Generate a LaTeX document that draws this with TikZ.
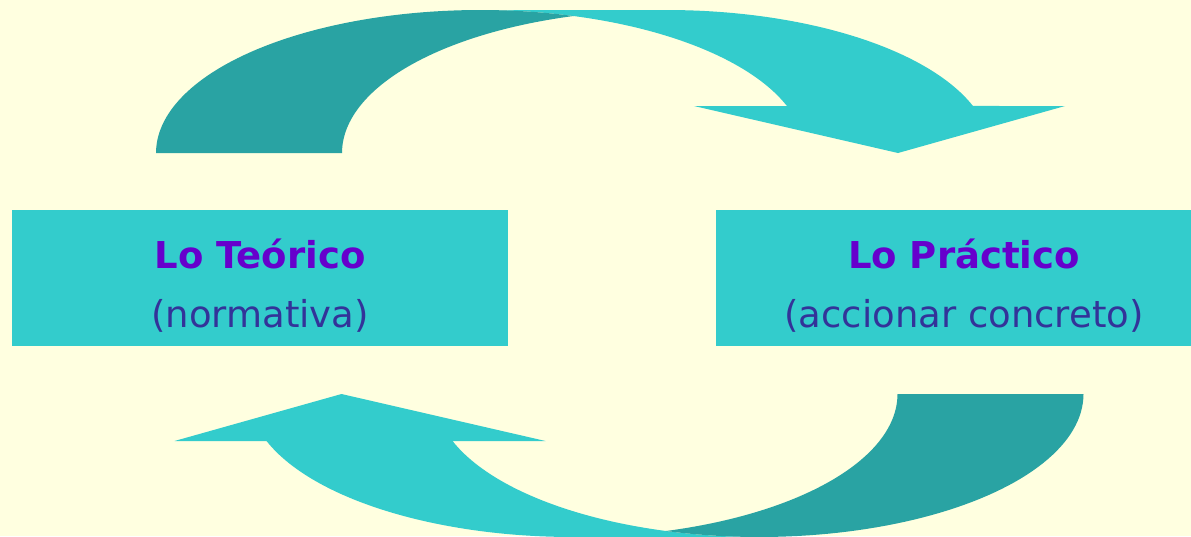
\documentclass[tikz,border=0pt]{standalone}
\usepackage{fontspec}
\newfontfamily\labfont{DejaVu Sans}
\definecolor{bgyellow}{HTML}{FFFFE0}
\definecolor{cyanfill}{HTML}{33CCCC}
\definecolor{darkteal}{HTML}{29A3A3}
\definecolor{titlepurple}{HTML}{6600CC}
\definecolor{subblue}{HTML}{333399}
\tikzset{
  frontband/.style={fill=cyanfill, draw=none},
  backband/.style={fill=darkteal, draw=none},
  boxnode/.style={rectangle, fill=cyanfill, draw=none, inner sep=0pt, minimum width=496pt, minimum height=136pt},
  titletext/.style={anchor=base, inner sep=0pt, text=titlepurple, font=\labfont\bfseries\fontsize{37}{44}\selectfont},
  subtext/.style={anchor=base, inner sep=0pt, text=subblue, font=\labfont\fontsize{37}{44}\selectfont},
}
\newcommand{\curvedarrowshape}{%
  \fill[frontband] (898,153) -- (694,106) -- (787,106)
    -- plot[variable=\t, domain=19.19:90, samples=60] ({480.5+324.5*cos(\t)},{153-143*sin(\t)})
    -- (666.5,10)
    -- plot[variable=\t, domain=90:19.19, samples=60] ({666.5+324.5*cos(\t)},{153-143*sin(\t)})
    -- (1065,106) -- cycle;
  \fill[backband]
    plot[variable=\t, domain=180:73.35, samples=60] ({480.5+324.5*cos(\t)},{153-143*sin(\t)})
    -- plot[variable=\t, domain=106.65:180, samples=60] ({666.5+324.5*cos(\t)},{153-143*sin(\t)})
    -- cycle;
}
\begin{document}
\begin{tikzpicture}[x=1pt,y=-1pt]
  \fill[bgyellow] (0,0) rectangle (1191,536);
  \useasboundingbox (0,0) rectangle (1191,536);
  \clip (0,0) rectangle (1191,536);
  % top curved arrow
  \curvedarrowshape
  % bottom curved arrow (same shape turned half a turn)
  \begin{scope}[rotate around={180:(619.75,273.5)}]
    \curvedarrowshape
  \end{scope}
  % boxes
  \node[boxnode] (teorico) at (260,278) {};
  \node[boxnode] (practico) at (964,278) {};
  \node[titletext] (teoricoT) at (260,268) {Lo Teórico};
  \node[subtext] (teoricoS) at (260,327) {(normativa)};
  \node[titletext] (practicoT) at (964,268) {Lo Práctico};
  \node[subtext] (practicoS) at (964,327) {(accionar concreto)};
\end{tikzpicture}
\end{document}
